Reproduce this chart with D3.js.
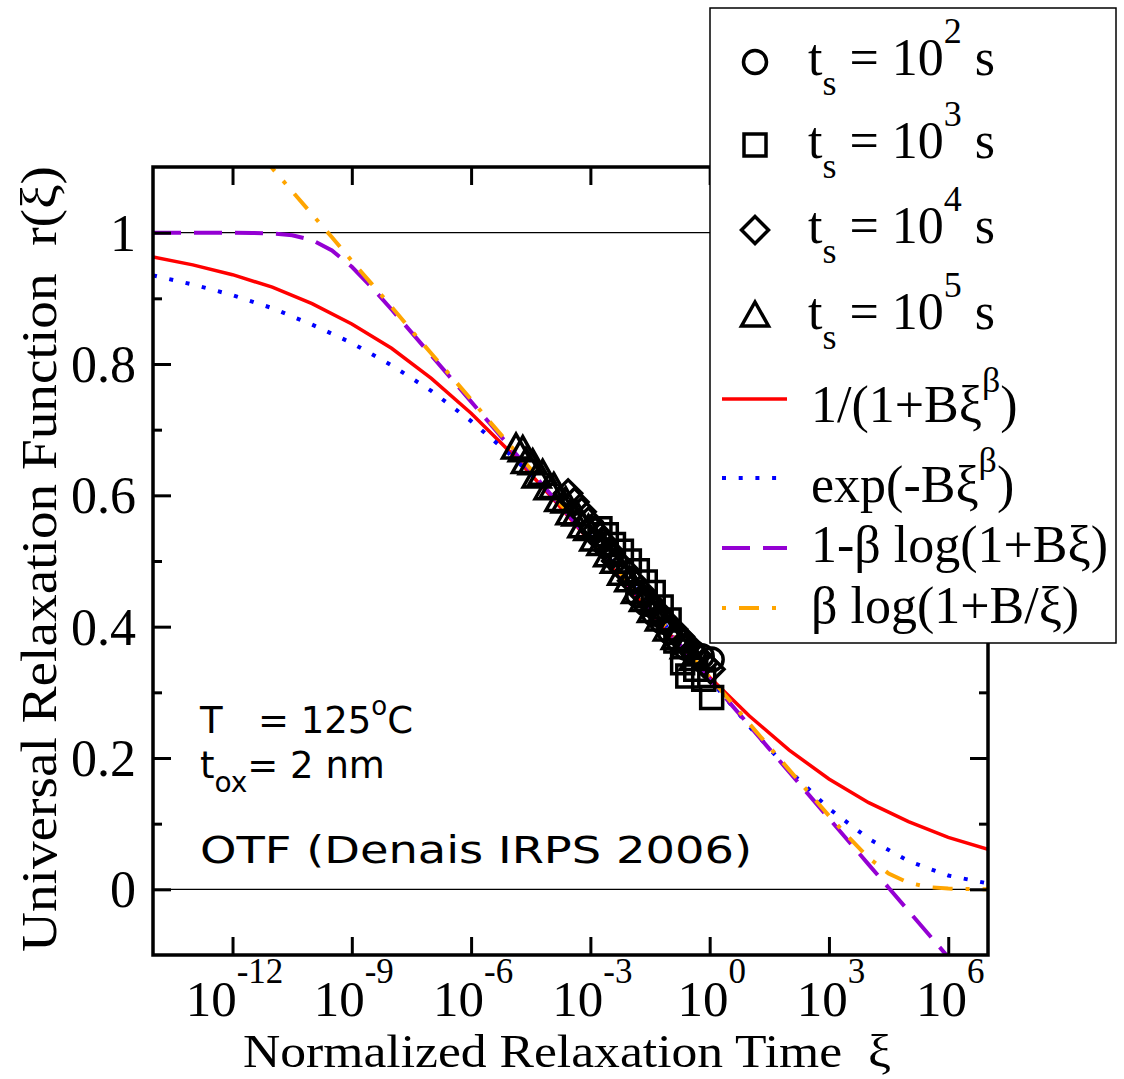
<!DOCTYPE html>
<html>
<head>
<meta charset="utf-8">
<script src="https://cdn.jsdelivr.net/npm/d3@7"></script>
<style>
  body { margin: 0; background: #fff; }
  text { white-space: pre; }
</style>
</head>
<body>
<div id="chart"></div>
<script>
const width = 1124;
const height = 1079;
const plot = { left: 153, right: 988, top: 167, bottom: 955 };

// ---- data (log10 of xi, r values) ----
const logXiCoarse = [-14, -13, -12, -11, -10, -9, -8, -7, -6, -5, -4, -3, -2, -1, 0, 1, 2, 3, 4, 5, 6, 7];
const logXiFine = [-14, -13.5, -13, -12.5, -12, -11.5, -11, -10.5, -10, -9.5, -9, -8.5, -8, -7.5, -7, -6.5,
  -6, -5.5, -5, -4.5, -4, -3.5, -3, -2.5, -2, -1.5, -1, -0.5, 0, 0.5, 1, 1.5, 2, 2.5, 3, 3.5, 4, 4.5,
  5, 5.5, 6, 6.5, 7];

const rationalFit = [0.963, 0.951, 0.936, 0.917, 0.892, 0.861, 0.824, 0.778, 0.725, 0.665, 0.599,
  0.529, 0.457, 0.388, 0.323, 0.264, 0.212, 0.168, 0.132, 0.103, 0.079, 0.061];
const stretchedExpFit = [0.935, 0.921, 0.905, 0.885, 0.860, 0.832, 0.798, 0.759, 0.713, 0.661, 0.602,
  0.538, 0.468, 0.394, 0.320, 0.248, 0.181, 0.123, 0.077, 0.043, 0.021, 0.009];
const logFit = [1.000, 1.000, 1.000, 1.000, 1.000, 0.9996, 0.9987, 0.9960, 0.9887, 0.9730, 0.9480,
  0.9168, 0.8830, 0.8482, 0.8131, 0.7779, 0.7427, 0.7074, 0.6722, 0.6369, 0.6017, 0.5664, 0.5312,
  0.4959, 0.4607, 0.4254, 0.3902, 0.3549, 0.3197, 0.2844, 0.2492, 0.2139, 0.1787, 0.1434, 0.1082,
  0.0729, 0.0377, 0.0024, -0.0328, -0.0681, -0.1033, -0.1386, -0.1738];
const invLogFit = [1.310, 1.275, 1.239, 1.204, 1.169, 1.134, 1.098, 1.063, 1.028, 0.993, 0.957,
  0.922, 0.887, 0.851, 0.816, 0.781, 0.746, 0.710, 0.675, 0.640, 0.605, 0.569, 0.534, 0.499, 0.464,
  0.428, 0.393, 0.358, 0.323, 0.288, 0.252, 0.217, 0.182, 0.147, 0.112, 0.079, 0.048, 0.024, 0.0099,
  0.0035, 0.0011, 0.0004, 0.0001];

// measured points: [log10 xi, r]
const ts1e2 = [[-1.80, 0.448], [-1.60, 0.435], [-1.40, 0.420], [-1.20, 0.408], [-1.00, 0.392],
  [-0.80, 0.380], [-0.60, 0.368], [-0.40, 0.360], [-0.20, 0.355], [0.05, 0.350]];
const ts1e3 = [[-2.76, 0.549], [-2.60, 0.540], [-2.42, 0.525], [-2.22, 0.515], [-2.02, 0.500],
  [-1.82, 0.485], [-1.62, 0.468], [-1.42, 0.452], [-1.22, 0.430], [-1.02, 0.410], [-0.85, 0.378],
  [-0.68, 0.345], [-0.55, 0.325], [-0.35, 0.335], [-0.15, 0.320], [0.05, 0.292]];
const ts1e4 = [[-3.56, 0.603], [-3.40, 0.590], [-3.22, 0.575], [-3.05, 0.560], [-2.88, 0.545],
  [-2.70, 0.530], [-2.52, 0.515], [-2.35, 0.500], [-2.15, 0.487], [-1.95, 0.470], [-1.75, 0.455],
  [-1.55, 0.440], [-1.35, 0.425], [-1.15, 0.410], [-0.95, 0.398], [-0.75, 0.385], [-0.55, 0.372],
  [-0.35, 0.358], [-0.15, 0.345], [0.02, 0.335]];
const ts1e5 = [[-4.87, 0.672], [-4.70, 0.668], [-4.62, 0.650], [-4.45, 0.648], [-4.35, 0.628],
  [-4.20, 0.632], [-4.05, 0.610], [-3.92, 0.612], [-3.78, 0.592], [-3.62, 0.590], [-3.50, 0.572],
  [-3.35, 0.570], [-3.20, 0.552], [-3.05, 0.548], [-2.90, 0.532], [-2.72, 0.525], [-2.55, 0.508],
  [-2.38, 0.498], [-2.20, 0.480], [-2.02, 0.470], [-1.85, 0.452], [-1.65, 0.440], [-1.45, 0.423],
  [-1.25, 0.410], [-1.05, 0.395], [-0.85, 0.382], [-0.62, 0.368], [-0.40, 0.350]];

const xTickExp = [-12, -9, -6, -3, 0, 3, 6];
const yMajor = [0, 0.2, 0.4, 0.6, 0.8, 1];
const yMinor = [0.1, 0.3, 0.5, 0.7, 0.9];
const yLabels = ["0", "0.2", "0.4", "0.6", "0.8", "1"];

const serif = "'Liberation Serif', 'Times New Roman', serif";
const sans = "'DejaVu Sans', sans-serif";

const svg = d3.select("#chart").append("svg")
    .attr("width", width)
    .attr("height", height);

const x = d3.scaleLog().domain([1e-14, 1e7]).range([plot.left, plot.right]);
const y = d3.scaleLinear().domain([-0.1, 1.1]).range([plot.bottom, plot.top]);
const xe = e => x(Math.pow(10, e));

svg.append("clipPath").attr("id", "clip")
  .append("rect")
    .attr("x", plot.left).attr("y", plot.top)
    .attr("width", plot.right - plot.left).attr("height", plot.bottom - plot.top);

// reference lines at 0 and 1
[0, 1].forEach(v => {
  svg.append("line")
      .attr("x1", plot.left).attr("x2", plot.right)
      .attr("y1", y(v)).attr("y2", y(v))
      .attr("stroke", "#000").attr("stroke-width", 1.3);
});

// ---- curves ----
const curves = [
  { xs: logXiCoarse, ys: rationalFit, color: "#ff0000", dash: null, w: 3.5 },
  { xs: logXiCoarse, ys: stretchedExpFit, color: "#0000ff", dash: "4,12.7", w: 4 },
  { xs: logXiFine, ys: logFit, color: "#9400d3", dash: "28,13", w: 4 },
  { xs: logXiFine, ys: invLogFit, color: "#ffa500", dash: "4,13,20,13", w: 4 }
];

const line = d3.line().x(d => xe(d[0])).y(d => y(d[1]));
const curveG = svg.append("g").attr("clip-path", "url(#clip)");
curves.forEach(c => {
  curveG.append("path")
      .datum(c.xs.map((v, i) => [v, c.ys[i]]))
      .attr("fill", "none")
      .attr("stroke", c.color)
      .attr("stroke-width", c.w)
      .attr("stroke-dasharray", c.dash)
      .attr("d", line);
});

// ---- markers ----
const shapes = {
  circle: "M11.5,0A11.5,11.5 0 1,1 -11.5,0A11.5,11.5 0 1,1 11.5,0Z",
  square: "M-11,-11H11V11H-11Z",
  diamond: "M0,-13.5L13.5,0L0,13.5L-13.5,0Z",
  triangle: "M0,-14L13.5,10L-13.5,10Z"
};
const series = [
  { data: ts1e2, shape: "circle", exp: "2" },
  { data: ts1e3, shape: "square", exp: "3" },
  { data: ts1e4, shape: "diamond", exp: "4" },
  { data: ts1e5, shape: "triangle", exp: "5" }
];
const markG = svg.append("g").attr("clip-path", "url(#clip)");
series.forEach(s => {
  markG.selectAll(null)
    .data(s.data)
    .enter().append("path")
      .attr("d", shapes[s.shape])
      .attr("transform", d => `translate(${xe(d[0])},${y(d[1])})`)
      .attr("fill", "none")
      .attr("stroke", "#000")
      .attr("stroke-width", 3.5);
});

// ---- axes (ticks pointing inward) ----
const xTickVals = xTickExp.map(e => Math.pow(10, e));
function styleAxis(g) {
  g.select(".domain").remove();
  g.selectAll(".tick line").attr("stroke", "#000").attr("stroke-width", 3);
}
svg.append("g").attr("transform", `translate(0,${plot.bottom})`)
  .call(d3.axisBottom(x).tickValues(xTickVals).tickSize(-18).tickFormat(""))
  .call(styleAxis);
svg.append("g").attr("transform", `translate(0,${plot.top})`)
  .call(d3.axisTop(x).tickValues(xTickVals).tickSize(-18).tickFormat(""))
  .call(styleAxis);
svg.append("g").attr("transform", `translate(${plot.left},0)`)
  .call(d3.axisLeft(y).tickValues(yMajor).tickSize(-18).tickFormat(""))
  .call(styleAxis);
svg.append("g").attr("transform", `translate(${plot.left},0)`)
  .call(d3.axisLeft(y).tickValues(yMinor).tickSize(-9).tickFormat(""))
  .call(styleAxis);
svg.append("g").attr("transform", `translate(${plot.right},0)`)
  .call(d3.axisRight(y).tickValues(yMajor).tickSize(-18).tickFormat(""))
  .call(styleAxis);
svg.append("g").attr("transform", `translate(${plot.right},0)`)
  .call(d3.axisRight(y).tickValues(yMinor).tickSize(-9).tickFormat(""))
  .call(styleAxis);

svg.append("rect")
    .attr("x", plot.left).attr("y", plot.top)
    .attr("width", plot.right - plot.left).attr("height", plot.bottom - plot.top)
    .attr("fill", "none").attr("stroke", "#000").attr("stroke-width", 3.5);

// rich text helper: parts = [[text, "n"|"sub"|"sup"], ...]
function rich(g, px, py, parts, size, small, family, subDy, supDy) {
  const t = g.append("text")
      .attr("x", px).attr("y", py)
      .attr("font-family", family)
      .attr("font-size", size)
      .attr("fill", "#000");
  let cur = 0;
  parts.forEach(([txt, kind]) => {
    const target = kind === "sub" ? subDy : kind === "sup" ? supDy : 0;
    t.append("tspan")
        .attr("dy", target - cur)
        .attr("font-size", kind === "n" ? size : small)
        .text(txt);
    cur = target;
  });
  return t;
}

// x tick labels
xTickExp.forEach(e => {
  rich(svg, xe(e) + 2, 1016, [["10", "n"], [String(e), "sup"]], 51, 35, serif, 0, -33)
    .attr("text-anchor", "middle");
});

// y tick labels
yMajor.forEach((v, i) => {
  svg.append("text")
      .attr("x", 136).attr("y", y(v) + 18)
      .attr("text-anchor", "end")
      .attr("font-family", serif)
      .attr("font-size", 52)
      .text(yLabels[i]);
});

// axis titles
svg.append("text")
    .attr("x", 243).attr("y", 1067)
    .attr("font-family", serif)
    .attr("font-size", 46)
    .attr("textLength", 648)
    .attr("lengthAdjust", "spacingAndGlyphs")
    .text("Normalized Relaxation Time  ξ");

svg.append("text")
    .attr("transform", `translate(56,${(plot.top + plot.bottom) / 2 - 2}) rotate(-90)`)
    .attr("text-anchor", "middle")
    .attr("font-family", serif)
    .attr("font-size", 50)
    .attr("textLength", 786)
    .attr("lengthAdjust", "spacingAndGlyphs")
    .text("Universal Relaxation Function  r(ξ)");

// annotations
rich(svg, 200, 733, [["T", "n"], ["   = 125", "n"], ["o", "sup"], ["C", "n"]], 37, 26, sans, 14, -18);
rich(svg, 200, 778, [["t", "n"], ["ox", "sub"], ["= 2 nm", "n"]], 37, 28, sans, 14, -18);
svg.append("text")
    .attr("x", 200).attr("y", 863)
    .attr("font-family", sans)
    .attr("font-size", 37)
    .attr("textLength", 552)
    .attr("lengthAdjust", "spacingAndGlyphs")
    .text("OTF (Denais IRPS 2006)");

// ---- legend ----
const leg = svg.append("g");
leg.append("rect")
    .attr("x", 710).attr("y", 8).attr("width", 406).attr("height", 635)
    .attr("fill", "#fff").attr("stroke", "#000").attr("stroke-width", 1.5);

const markerRows = [62, 145, 230, 316];
series.forEach((s, i) => {
  leg.append("path")
      .attr("d", shapes[s.shape])
      .attr("transform", `translate(755,${markerRows[i]})`)
      .attr("fill", "none").attr("stroke", "#000").attr("stroke-width", 3.5);
  rich(leg, 808, markerRows[i] + 13,
    [["t", "n"], ["s", "sub"], [" = 10", "n"], [s.exp, "sup"], [" s", "n"]],
    52, 36, serif, 20, -32);
});

const lineRows = [399, 478, 548, 608];
const lineLabels = [
  [["1/(1+Bξ", "n"], ["β", "sup"], [")", "n"]],
  [["exp(-Bξ", "n"], ["β", "sup"], [")", "n"]],
  [["1-β log(1+Bξ)", "n"]],
  [["β log(1+B/ξ)", "n"]]
];
const lineBase = [422, 502, 562, 623];
curves.forEach((c, i) => {
  leg.append("line")
      .attr("x1", 722).attr("x2", 787)
      .attr("y1", lineRows[i]).attr("y2", lineRows[i])
      .attr("stroke", c.color).attr("stroke-width", c.w)
      .attr("stroke-dasharray", c.dash);
  rich(leg, 811, lineBase[i], lineLabels[i], 52, 36, serif, 20, -30);
});
</script>
</body>
</html>
